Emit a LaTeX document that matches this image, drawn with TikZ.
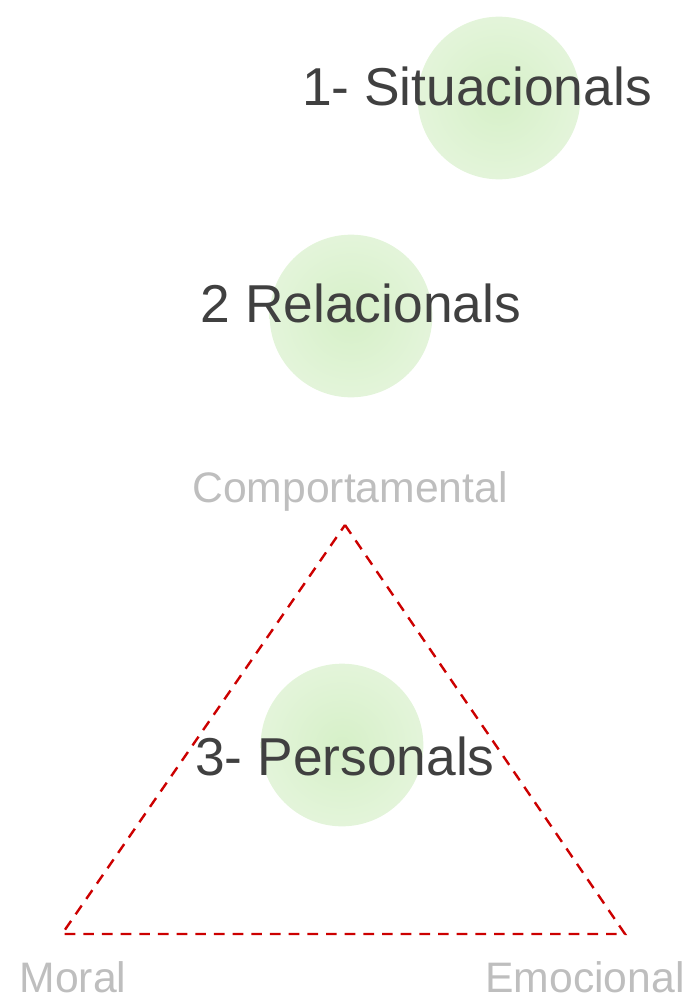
\documentclass[tikz,border=0pt]{standalone}
\usepackage{fontspec}
\setmainfont{Liberation Sans}
\usetikzlibrary{positioning}

\definecolor{glowin}{RGB}{214,240,200}
\definecolor{glowout}{RGB}{232,246,224}
\definecolor{titlegray}{RGB}{64,64,64}
\definecolor{cornergray}{RGB}{190,190,190}
\definecolor{dashred}{RGB}{204,0,0}

\pgfdeclareradialshading{glow}{\pgfpoint{0bp}{0bp}}{%
  color(0bp)=(glowin); color(30bp)=(glowout!90!glowin); color(42bp)=(glowout);
  color(46bp)=(glowout!60!white); color(50bp)=(white)}

\tikzset{
  title/.style={anchor=base, text=titlegray, font=\fontsize{40}{48}\selectfont, inner sep=0pt},
  corner/.style={anchor=base, text=cornergray, font=\fontsize{32}{38}\selectfont, inner sep=0pt},
  tri/.style={draw=dashred, line width=1.8pt, dash pattern=on 8pt off 6pt},
  blob/.style={shading=glow}
}

\begin{document}
\begin{tikzpicture}[x=0.75pt, y=-0.75pt]
		\useasboundingbox (0,0) rectangle (690,999);
		% soft green spots
		\shade[blob] (499,98)  circle [radius=61pt];
		\shade[blob] (351,316) circle [radius=61pt];
		\shade[blob] (342,745) circle [radius=61pt];
		% triangle corners
		\coordinate (apex) at (345,525);
		\coordinate (lft)  at (62,934);
		\coordinate (rgt)  at (625,934);
		\draw[tri] (apex) -- (rgt) -- (lft) -- cycle;
		% labels
		\node[title] (situ) at (477,105) {1- Situacionals};
		\node[title] (rela) at (361,322) {2 Relacionals};
		\node[title] (pers) at (345,775) {3- Personals};
		\node[corner] (comp) at (350,502) {Comportamental};
		\node[corner] (mora) at (73,992)  {Moral};
		\node[corner] (emoc) at (585,992) {Emocional};
	\end{tikzpicture}
\end{document}
